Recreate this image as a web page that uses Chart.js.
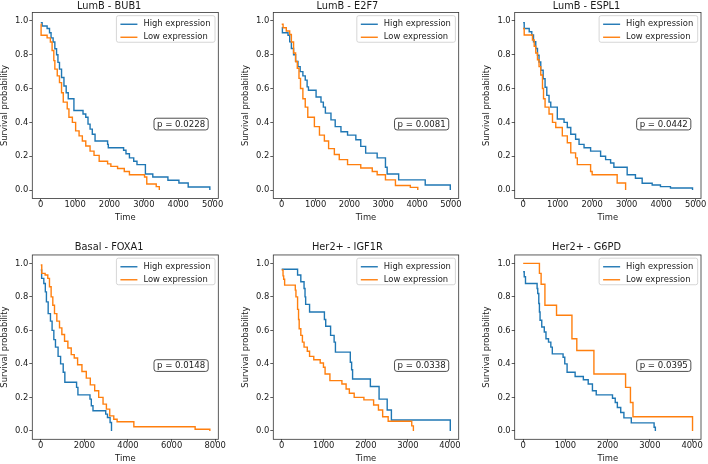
<!DOCTYPE html>
<html lang="en">
<head>
<meta charset="utf-8">
<style>
    body { margin: 0; background: #fff; }
    #grid { position: relative; width: 708px; height: 464px; }
    #grid canvas { position: absolute; }
</style>
</head>
<body>
<div id="grid"></div>

<script src="https://cdn.jsdelivr.net/npm/chart.js@4.4.0/dist/chart.umd.min.js"></script>
<script>
    var panelTitles = ['LumB - BUB1', 'LumB - E2F7', 'LumB - ESPL1', 'Basal - FOXA1', 'Her2+ - IGF1R', 'Her2+ - G6PD'];
    var pValues = ['0.0228', '0.0081', '0.0442', '0.0148', '0.0338', '0.0395'];
    var seriesLabels = ['High expression', 'Low expression'];
    var yTicks = [0, 0.2, 0.4, 0.6, 0.8, 1.0];
    var xTicks5000 = [0, 1000, 2000, 3000, 4000, 5000];
    var xTicks8000 = [0, 2000, 4000, 6000, 8000];
    var xTicks4000 = [0, 1000, 2000, 3000, 4000];

    // Kaplan-Meier curves: event time, survival after the event
    var bub1HighTime = [0, 40, 185, 255, 300, 360, 410, 460, 500, 545, 605, 675, 740, 800, 965, 1230, 1310, 1375, 1435, 1500, 1580, 1945, 1965, 2410, 2480, 2580, 2705, 2800, 3045, 3260, 3700, 4020, 4290, 4920];
    var bub1HighSurv = [0.99, 0.97, 0.955, 0.93, 0.90, 0.875, 0.835, 0.80, 0.755, 0.715, 0.665, 0.615, 0.575, 0.54, 0.47, 0.45, 0.43, 0.39, 0.36, 0.33, 0.29, 0.27, 0.25, 0.235, 0.215, 0.19, 0.17, 0.15, 0.095, 0.077, 0.058, 0.042, 0.018, 0];
    var bub1LowTime = [0, 10, 185, 280, 330, 380, 410, 480, 545, 605, 655, 770, 820, 920, 1015, 1115, 1210, 1310, 1435, 1550, 1700, 1945, 2040, 2235, 2430, 2580, 3020, 3085, 3360, 3450];
    var bub1LowSurv = [0.98, 0.915, 0.90, 0.875, 0.825, 0.765, 0.715, 0.675, 0.635, 0.575, 0.52, 0.48, 0.43, 0.40, 0.35, 0.32, 0.29, 0.26, 0.23, 0.205, 0.17, 0.155, 0.14, 0.127, 0.11, 0.09, 0.077, 0.036, 0.02, 0];

    var e2f7HighTime = [0, 20, 185, 235, 285, 350, 410, 480, 545, 625, 695, 750, 790, 1015, 1160, 1230, 1290, 1455, 1580, 1750, 1945, 2190, 2335, 2480, 2820, 3065, 3115, 3455, 4240, 4980];
    var e2f7HighSurv = [0.96, 0.93, 0.915, 0.876, 0.837, 0.80, 0.76, 0.73, 0.70, 0.675, 0.65, 0.61, 0.59, 0.55, 0.52, 0.49, 0.455, 0.415, 0.375, 0.345, 0.325, 0.297, 0.258, 0.218, 0.19, 0.135, 0.095, 0.06, 0.03, 0];
    var e2f7LowTime = [0, 40, 135, 235, 285, 350, 410, 460, 510, 555, 625, 695, 770, 965, 1115, 1260, 1385, 1555, 1700, 1945, 2335, 2675, 2820, 3065, 3360, 3800, 4020];
    var e2f7LowSurv = [0.98, 0.96, 0.94, 0.92, 0.875, 0.81, 0.76, 0.72, 0.66, 0.60, 0.54, 0.49, 0.43, 0.375, 0.325, 0.29, 0.245, 0.21, 0.18, 0.15, 0.13, 0.11, 0.09, 0.06, 0.027, 0.016, 0];

    var espl1HighTime = [0, 30, 175, 250, 300, 365, 415, 460, 510, 580, 635, 685, 750, 800, 990, 1185, 1280, 1380, 1520, 1620, 1765, 1955, 2245, 2390, 2535, 2630, 3015, 3255, 3450, 3740, 3980, 4270, 4910];
    var espl1HighSurv = [0.99, 0.955, 0.936, 0.917, 0.877, 0.837, 0.797, 0.757, 0.708, 0.658, 0.608, 0.56, 0.52, 0.49, 0.42, 0.40, 0.37, 0.33, 0.30, 0.27, 0.25, 0.23, 0.20, 0.18, 0.16, 0.135, 0.09, 0.07, 0.04, 0.03, 0.02, 0.012, 0];
    var espl1LowTime = [0, 30, 270, 320, 365, 415, 460, 510, 560, 590, 635, 750, 850, 945, 1135, 1280, 1380, 1520, 1570, 1955, 2000, 2725, 2970];
    var espl1LowSurv = [0.955, 0.917, 0.887, 0.85, 0.81, 0.77, 0.73, 0.68, 0.60, 0.54, 0.49, 0.45, 0.40, 0.37, 0.32, 0.28, 0.22, 0.19, 0.15, 0.11, 0.09, 0.042, 0];

    var foxa1HighTime = [0, 40, 140, 210, 260, 340, 445, 520, 600, 675, 795, 910, 1030, 1105, 1643, 1705, 2258, 2320, 2396, 2980, 3060, 3180, 3245];
    var foxa1HighSurv = [0.96, 0.91, 0.88, 0.83, 0.77, 0.70, 0.655, 0.60, 0.545, 0.50, 0.445, 0.40, 0.35, 0.29, 0.26, 0.215, 0.19, 0.15, 0.12, 0.10, 0.08, 0.05, 0];
    var foxa1LowTime = [0, 46, 200, 323, 400, 476, 553, 630, 737, 860, 968, 1091, 1244, 1398, 1536, 1690, 1889, 2089, 2273, 2473, 2657, 2857, 3011, 3164, 3349, 3502, 4270, 7081, 7756];
    var foxa1LowSurv = [0.99, 0.94, 0.93, 0.91, 0.86, 0.80, 0.75, 0.70, 0.655, 0.615, 0.575, 0.535, 0.495, 0.455, 0.435, 0.395, 0.355, 0.315, 0.275, 0.24, 0.20, 0.16, 0.13, 0.09, 0.07, 0.055, 0.025, 0.01, 0];

    var igf1rHighTime = [0, 377, 454, 531, 554, 569, 662, 1015, 1046, 1162, 1246, 1277, 1631, 1662, 1685, 2108, 2315, 2508, 2608, 4008];
    var igf1rHighSurv = [0.965, 0.93, 0.89, 0.85, 0.80, 0.755, 0.71, 0.665, 0.625, 0.57, 0.53, 0.47, 0.41, 0.365, 0.31, 0.265, 0.19, 0.125, 0.065, 0];
    var igf1rLowTime = [0, 31, 46, 69, 323, 338, 377, 400, 415, 454, 492, 531, 608, 662, 762, 915, 992, 1031, 1146, 1431, 1531, 1608, 1723, 1954, 2185, 2300, 2400, 2531, 3092, 3131];
    var igf1rLowSurv = [0.96, 0.925, 0.905, 0.87, 0.84, 0.80, 0.725, 0.665, 0.61, 0.57, 0.53, 0.50, 0.475, 0.445, 0.425, 0.405, 0.38, 0.34, 0.30, 0.28, 0.25, 0.225, 0.20, 0.185, 0.155, 0.125, 0.085, 0.058, 0.03, 0];

    var g6pdHighTime = [0, 25, 55, 330, 345, 370, 385, 400, 440, 500, 540, 600, 655, 690, 945, 985, 1040, 1230, 1425, 1540, 1640, 1730, 2115, 2180, 2230, 2310, 2385, 2560, 3100, 3130];
    var g6pdHighSurv = [0.95, 0.92, 0.88, 0.85, 0.82, 0.76, 0.71, 0.66, 0.62, 0.59, 0.55, 0.53, 0.50, 0.46, 0.44, 0.40, 0.35, 0.325, 0.305, 0.28, 0.24, 0.215, 0.195, 0.17, 0.14, 0.11, 0.078, 0.048, 0.022, 0];
    var g6pdLowTime = [0, 385, 425, 515, 790, 1155, 1270, 1675, 2425, 2540, 2600, 4010];
    var g6pdLowSurv = [1.0, 0.94, 0.875, 0.75, 0.69, 0.55, 0.48, 0.34, 0.26, 0.17, 0.085, 0];

    var panels = [
        { high: [bub1HighTime, bub1HighSurv], low: [bub1LowTime, bub1LowSurv], xTicks: xTicks5000 },
        { high: [e2f7HighTime, e2f7HighSurv], low: [e2f7LowTime, e2f7LowSurv], xTicks: xTicks5000 },
        { high: [espl1HighTime, espl1HighSurv], low: [espl1LowTime, espl1LowSurv], xTicks: xTicks5000 },
        { high: [foxa1HighTime, foxa1HighSurv], low: [foxa1LowTime, foxa1LowSurv], xTicks: xTicks8000 },
        { high: [igf1rHighTime, igf1rHighSurv], low: [igf1rLowTime, igf1rLowSurv], xTicks: xTicks4000 },
        { high: [g6pdHighTime, g6pdHighSurv], low: [g6pdLowTime, g6pdLowSurv], xTicks: xTicks4000 }
    ];

    var FONT = '"DejaVu Sans", sans-serif';
    var TEXT = '#1a1a1a';
    var CELL_W = 236, CELL_H = 232;
    // plot box inside each cell (left/right per column, top/bottom per row)
    var colBox = [{ left: 32.3, right: 218.3, ylab: 0 }, { left: 37.3, right: 222.7, ylab: 5 }, { left: 42.7, right: 229, ylab: 10 }];
    var rowBox = [
        { pad: 0, titleGap: 0.5, bottom: 198.5, tpad: 9.5 },
        { pad: 9, titleGap: 2, bottom: 207.3, tpad: 0 }
    ];

    function toPoints(t, s) {
        var pts = [];
        for (var i = 0; i < t.length; i++) pts.push({ x: t[i], y: s[i] });
        return pts;
    }

    function roundRect(ctx, x, y, w, h, r) {
        ctx.beginPath();
        ctx.moveTo(x + r, y);
        ctx.lineTo(x + w - r, y);
        ctx.arcTo(x + w, y, x + w, y + r, r);
        ctx.lineTo(x + w, y + h - r);
        ctx.arcTo(x + w, y + h, x + w - r, y + h, r);
        ctx.lineTo(x + r, y + h);
        ctx.arcTo(x, y + h, x, y + h - r, r);
        ctx.lineTo(x, y + r);
        ctx.arcTo(x, y, x + r, y, r);
        ctx.closePath();
    }

    // axes frame, legend box and p-value box
    var decor = {
        id: 'kmDecor',
        afterDraw: function (chart) {
            var ctx = chart.ctx, a = chart.chartArea;
            ctx.save();
            ctx.strokeStyle = '#333';
            ctx.lineWidth = 0.8;
            ctx.strokeRect(a.left, a.top, a.right - a.left, a.bottom - a.top);

            ctx.font = '8.4px ' + FONT;
            var sets = chart.data.datasets;
            var tw = 0;
            sets.forEach(function (d) { tw = Math.max(tw, ctx.measureText(d.label).width); });
            var fw = 4 + 17 + 6 + tw + 4.5, fh = 26.6;
            var fx = a.right - 3.3 - fw, fy = a.top + 3.2;
            roundRect(ctx, fx, fy, fw, fh, 2);
            ctx.fillStyle = 'rgba(255,255,255,0.8)';
            ctx.fill();
            ctx.strokeStyle = '#cccccc';
            ctx.stroke();
            sets.forEach(function (d, k) {
                var y = fy + 8.6 + 13 * k;
                ctx.strokeStyle = d.borderColor;
                ctx.lineWidth = 1.4;
                ctx.beginPath();
                ctx.moveTo(fx + 4, y);
                ctx.lineTo(fx + 21, y);
                ctx.stroke();
                ctx.fillStyle = TEXT;
                ctx.textBaseline = 'middle';
                ctx.textAlign = 'left';
                ctx.fillText(d.label, fx + 27, y);
            });

            var p = chart.options.plugins.kmDecor;
            ctx.font = '8.6px ' + FONT;
            var txt = 'p = ' + p.pValue;
            var w = ctx.measureText(txt).width + 6, h = 11.7;
            var cx = a.left + 0.8 * (a.right - a.left), cy = a.bottom - 0.4 * (a.bottom - a.top);
            roundRect(ctx, cx - w / 2, cy - h / 2, w, h, 2.5);
            ctx.fillStyle = '#fff';
            ctx.fill();
            ctx.strokeStyle = '#222';
            ctx.lineWidth = 0.8;
            ctx.stroke();
            ctx.fillStyle = TEXT;
            ctx.textAlign = 'center';
            ctx.textBaseline = 'middle';
            ctx.fillText(txt, cx, cy + 0.5);
            ctx.restore();
        }
    };

    function makeChart(i) {
        var col = i % 3, row = Math.floor(i / 3);
        var cb = colBox[col], rb = rowBox[row];
        var p = panels[i];
        var canvas = document.createElement('canvas');
        canvas.width = CELL_W;
        canvas.height = CELL_H;
        canvas.style.left = (col * CELL_W) + 'px';
        canvas.style.top = (row * CELL_H) + 'px';
        document.getElementById('grid').appendChild(canvas);

        var maxT = Math.max(p.high[0][p.high[0].length - 1], p.low[0][p.low[0].length - 1]);
        var tickFont = { family: FONT, size: 8.4 };

        new Chart(canvas, {
            type: 'scatter',
            data: {
                datasets: [
                    { label: seriesLabels[0], data: toPoints(p.high[0], p.high[1]), borderColor: '#1f77b4', order: 1 },
                    { label: seriesLabels[1], data: toPoints(p.low[0], p.low[1]), borderColor: '#ff7f0e', order: 0 }
                ]
            },
            options: {
                responsive: false,
                animation: false,
                devicePixelRatio: 1,
                layout: { padding: { left: 0, right: CELL_W - cb.right, top: rb.pad, bottom: 0 } },
                elements: {
                    line: { borderWidth: 1.4, stepped: 'before', fill: false },
                    point: { radius: 0, hoverRadius: 0 }
                },
                datasets: { scatter: { showLine: true } },
                scales: {
                    x: {
                        type: 'linear',
                        min: -0.05 * maxT,
                        max: 1.05 * maxT,
                        afterBuildTicks: function (s) { s.ticks = p.xTicks.map(function (v) { return { value: v }; }); },
                        afterFit: function (s) { s.height = CELL_H - rb.bottom; },
                        border: { display: false },
                        grid: { drawOnChartArea: false, drawTicks: true, tickLength: 3, color: '#333', lineWidth: 0.8 },
                        ticks: { color: TEXT, font: tickFont, padding: -1.3, autoSkip: false, maxRotation: 0,
                            callback: function (v) { return String(v); } },
                        title: { display: true, text: 'Time', color: TEXT, font: tickFont, padding: { top: 0, bottom: rb.tpad } }
                    },
                    y: {
                        type: 'linear',
                        min: -0.05,
                        max: 1.05,
                        afterBuildTicks: function (s) { s.ticks = yTicks.map(function (v) { return { value: v }; }); },
                        afterFit: function (s) { s.width = cb.left; },
                        border: { display: false },
                        grid: { drawOnChartArea: false, drawTicks: true, tickLength: 3, color: '#333', lineWidth: 0.8 },
                        ticks: { color: TEXT, font: tickFont, padding: 1,
                            callback: function (v) { return v.toFixed(1); } },
                        title: { display: true, text: 'Survival probability', color: TEXT, font: tickFont, padding: { top: cb.ylab, bottom: 0 } }
                    }
                },
                plugins: {
                    legend: { display: false },
                    tooltip: { enabled: false },
                    title: { display: true, text: panelTitles[i], color: TEXT,
                        font: { family: FONT, size: 9.8, weight: 'normal' }, padding: { top: 0.2, bottom: rb.titleGap } },
                    kmDecor: { pValue: pValues[i] }
                }
            },
            plugins: [decor]
        });
    }

    for (var i = 0; i < panels.length; i++) makeChart(i);
</script>
</body>
</html>
